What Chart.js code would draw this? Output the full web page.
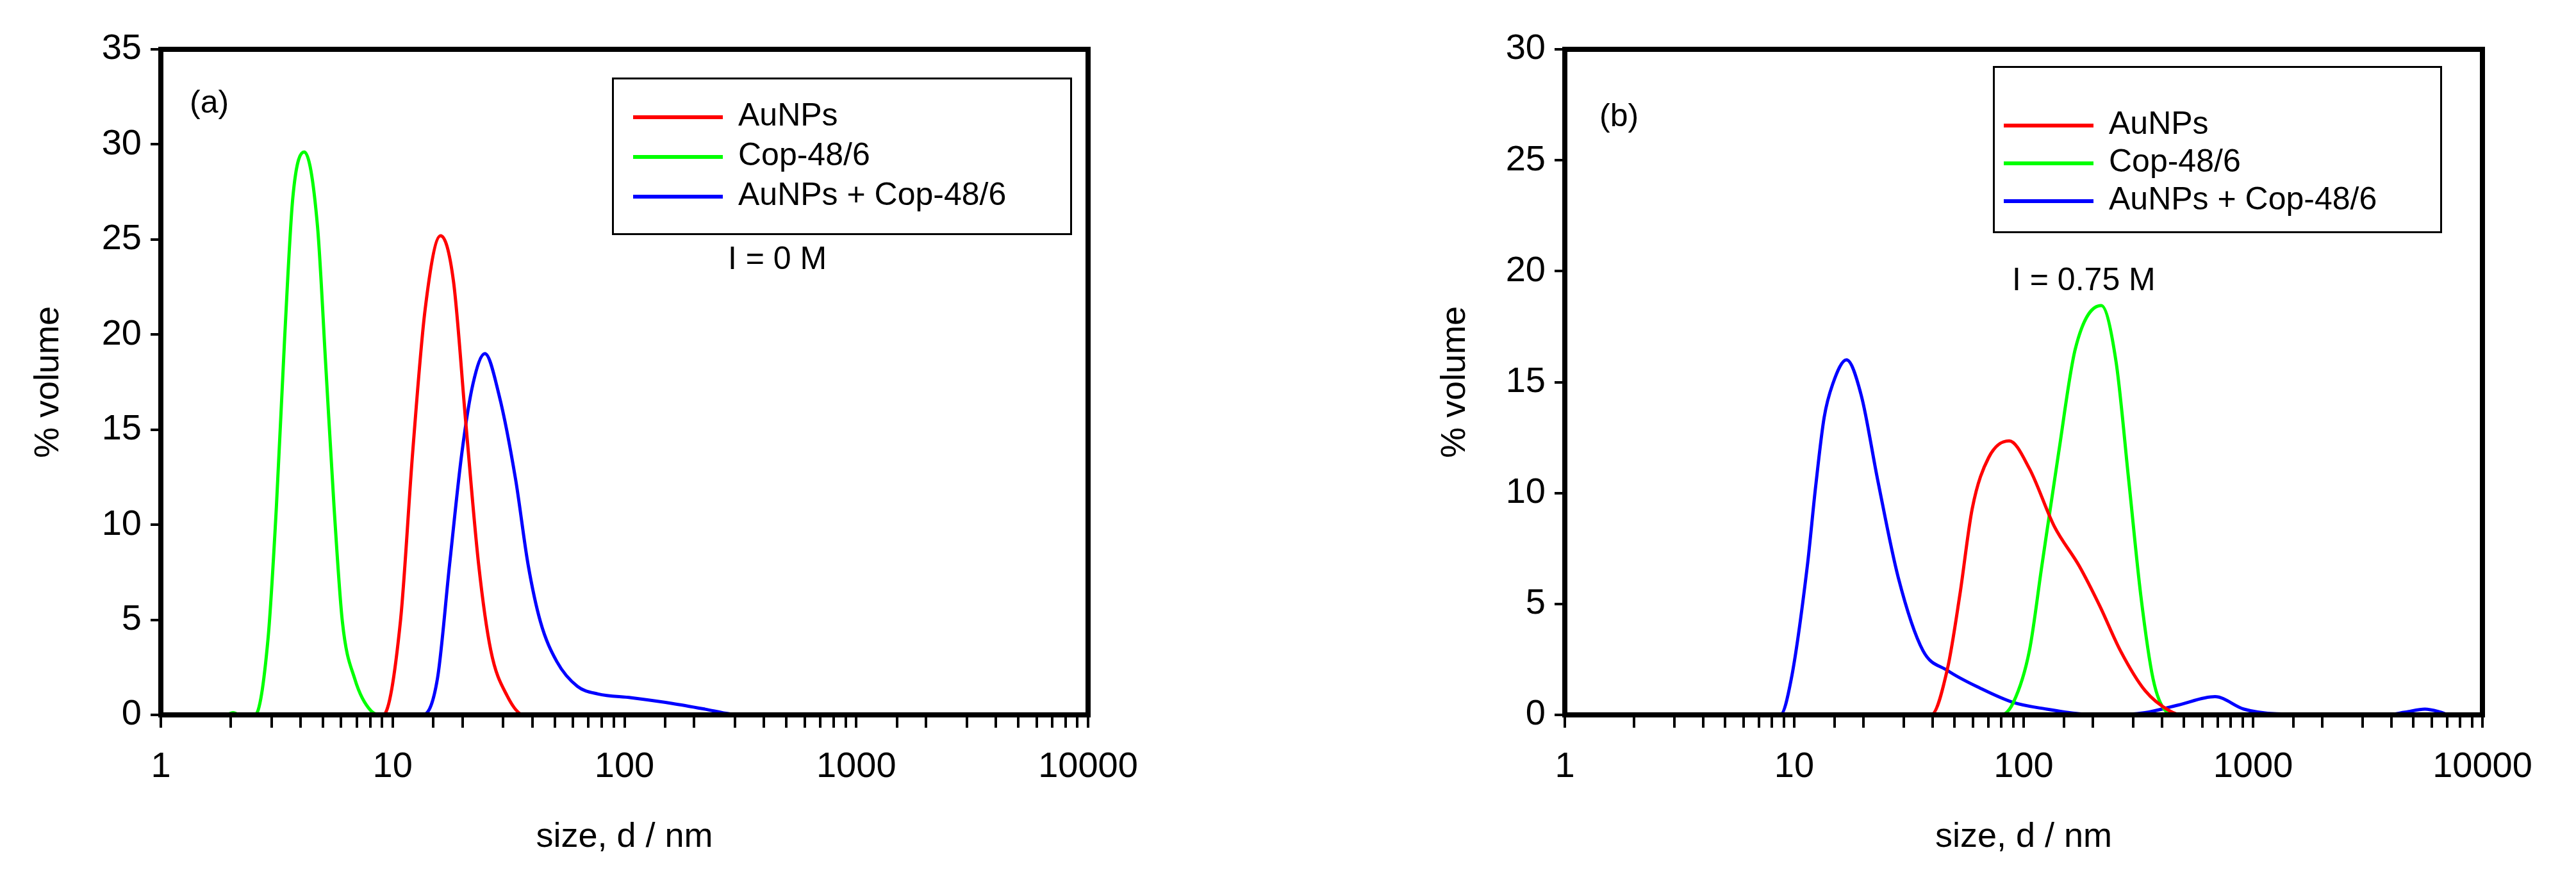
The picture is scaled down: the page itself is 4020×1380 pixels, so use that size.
<!DOCTYPE html>
<html>
<head>
<meta charset="utf-8">
<script src="https://cdn.jsdelivr.net/npm/chart.js@4/dist/chart.umd.min.js"></script>
<style>
  body { margin: 0; background: #fff; font-family: "Liberation Sans", Arial, sans-serif; }
  .panel { position: absolute; top: 0; width: 2010px; height: 1380px; }
  .txt { position: absolute; font-size: 50px; color: #000; white-space: nowrap; line-height: 1; }
  .legend { position: absolute; border: 3px solid #000; background: #fff; }
  .row { position: absolute; left: 0; font-size: 50px; line-height: 1; white-space: nowrap; }
  .row span { display: inline-block; vertical-align: middle; height: 6px; margin-right: 24px; }
</style>
</head>
<body>
<div class="panel" style="left:0"><canvas id="chartA"></canvas></div>
<div class="panel" style="left:2010px"><canvas id="chartB"></canvas></div>

<div class="txt" style="left:296px;top:134px">(a)</div>
<div class="txt" style="left:1136px;top:378px">I = 0 M</div>
<div class="legend" style="left:955px;top:121px;width:712px;height:240px">
  <div class="row" style="left:30px;top:30px"><span style="width:140px;background:#ff0000"></span>AuNPs</div>
  <div class="row" style="left:30px;top:92px"><span style="width:140px;background:#00ff00"></span>Cop-48/6</div>
  <div class="row" style="left:30px;top:154px"><span style="width:140px;background:#0000ff"></span>AuNPs + Cop-48/6</div>
</div>

<div class="txt" style="left:2496px;top:155px">(b)</div>
<div class="txt" style="left:3140px;top:411px">I = 0.75 M</div>
<div class="legend" style="left:3110px;top:103px;width:695px;height:255px">
  <div class="row" style="left:14px;top:61px"><span style="width:140px;background:#ff0000"></span>AuNPs</div>
  <div class="row" style="left:14px;top:120px"><span style="width:140px;background:#00ff00"></span>Cop-48/6</div>
  <div class="row" style="left:14px;top:179px"><span style="width:140px;background:#0000ff"></span>AuNPs + Cop-48/6</div>
</div>

<script>
// panel (a), I = 0 M
const sizeA_au  = [1, 9.1, 10.8, 12.2, 13.8, 16.1, 18.3, 20.7, 23.5, 26.5, 31.2, 36.8, 10000];
const volA_au   = [0, 0, 4.9, 13.8, 21.3, 25.2, 22.8, 15.3, 7.9, 3.4, 1.0, 0, 0];
const sizeA_cop = [1, 1.9, 2.05, 2.2, 2.55, 2.9, 3.15, 3.42, 3.71, 4.16, 4.74, 5.15, 5.59, 6.07, 6.86, 8.08, 9.0, 10000];
const volA_cop  = [0, 0, 0.12, 0, 0, 4.0, 10.9, 19.8, 27.2, 29.6, 25.7, 18.3, 10.9, 4.9, 1.9, 0.2, 0, 0];
const sizeA_mix = [1, 13.5, 15.6, 17.6, 19.9, 22.2, 25.0, 28.8, 33.9, 38.4, 43.4, 51.1, 62.7, 76.9, 107, 161, 223, 286, 365, 10000];
const volA_mix  = [0, 0, 1.9, 7.9, 13.8, 17.4, 19.0, 16.8, 12.4, 7.9, 4.9, 2.8, 1.5, 1.1, 0.9, 0.6, 0.3, 0.05, 0, 0];

// panel (b), I = 0.75 M
const sizeB_au  = [1, 39.5, 46.6, 52.7, 59.7, 70.4, 86.5, 106, 136, 175, 215, 264, 338, 433, 491, 10000];
const volB_au   = [0, 0, 2.1, 5.4, 9.3, 11.6, 12.35, 11.1, 8.5, 6.7, 4.9, 2.9, 1.1, 0.18, 0, 0];
const sizeB_cop = [1, 79.6, 90.2, 106, 120, 142, 168, 218, 253, 287, 324, 367, 416, 470, 10000];
const volB_cop  = [0, 0, 0.56, 2.9, 6.7, 11.8, 16.5, 18.45, 15.9, 10.6, 5.4, 1.6, 0.18, 0, 0];
const sizeB_mix = [1, 8.7, 9.7, 11.4, 12.4, 13.5, 14.7, 16.9, 19.6, 23.1, 28.4, 36.4, 46.6, 64.8, 90.2, 126, 175, 243, 338, 471, 683, 912, 1268, 3715, 4600, 5610, 6600, 7190, 10000];
const volB_mix  = [0, 0, 1.6, 6.7, 10.3, 13.4, 14.9, 16.0, 14.4, 10.6, 6.2, 2.9, 2.0, 1.2, 0.56, 0.26, 0.05, 0, 0.1, 0.44, 0.82, 0.26, 0.05, 0, 0.12, 0.26, 0.12, 0, 0];

const decadeLabels = [1, 10, 100, 1000, 10000];
const FONT = '"Liberation Sans", Arial, sans-serif';

function pts(xs, ys) {
    return xs.map((x, i) => ({ x: x, y: ys[i] }));
}

const frame = {
    id: 'frame',
    afterDraw(chart) {
        const a = chart.chartArea, ctx = chart.ctx;
        ctx.save();
        ctx.strokeStyle = '#000';
        ctx.lineWidth = 8;
        ctx.strokeRect(a.left, a.top, a.right - a.left, a.bottom - a.top);
        ctx.restore();
    }
};

function makeChart(id, sets, yMax, padRight, yWidth, yTitlePad) {
    const colors = ['#ff0000', '#00ff00', '#0000ff'];
    return new Chart(document.getElementById(id), {
        type: 'line',
        data: {
            datasets: sets.map((d, i) => ({
                data: d,
                borderColor: colors[i],
                borderWidth: 5,
                pointRadius: 0,
                tension: 0.4,
                cubicInterpolationMode: 'monotone',
                fill: false
            }))
        },
        options: {
            responsive: false,
            animation: false,
            layout: { padding: { top: 77, right: padRight, left: 0, bottom: 0 } },
            plugins: { legend: { display: false }, tooltip: { enabled: false } },
            scales: {
                x: {
                    type: 'logarithmic',
                    min: 1, max: 10000,
                    border: { color: '#000', width: 8 },
                    grid: { drawOnChartArea: false, tickLength: 20, color: '#000', lineWidth: 4 },
                    ticks: {
                        autoSkip: false, maxRotation: 0, color: '#000', padding: 28,
                        font: { family: FONT, size: 56 },
                        callback: v => decadeLabels.includes(v) ? String(v) : ''
                    },
                    title: { display: true, text: 'size, d / nm', color: '#000',
                             font: { family: FONT, size: 54 }, padding: { top: 0, bottom: 40 } },
                    afterFit: s => { s.height = 264; }
                },
                y: {
                    min: 0, max: yMax,
                    border: { color: '#000', width: 8 },
                    grid: { drawOnChartArea: false, tickLength: 16, color: '#000', lineWidth: 4 },
                    ticks: { stepSize: 5, color: '#000', padding: 14, font: { family: FONT, size: 56 } },
                    title: { display: true, text: '% volume', color: '#000',
                             font: { family: FONT, size: 54 }, padding: { top: yTitlePad, bottom: 0 } },
                    afterFit: s => { s.width = yWidth; }
                }
            }
        },
        plugins: [frame]
    });
}

for (const id of ['chartA', 'chartB']) {
    const c = document.getElementById(id);
    c.width = 2010; c.height = 1380;
}

makeChart('chartA', [pts(sizeA_au, volA_au), pts(sizeA_cop, volA_cop), pts(sizeA_mix, volA_mix)], 35, 2010 - 1698, 251, 44);

// panel (b) is offset by 2010 px; its plot area runs 2442..3874
makeChart('chartB', [pts(sizeB_au, volB_au), pts(sizeB_cop, volB_cop), pts(sizeB_mix, volB_mix)], 30, 4020 - 3874, 432, 229);
</script>
</body>
</html>
